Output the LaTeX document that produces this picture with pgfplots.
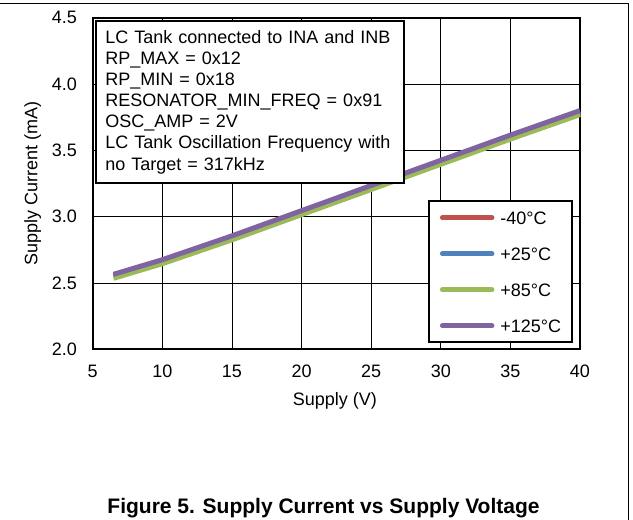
\documentclass[border=0pt]{standalone}
\usepackage{fontspec}
\setmainfont{Liberation Sans}
\usepackage{pgfplots}
\pgfplotsset{compat=1.18}
\definecolor{cred}{HTML}{C0504D}
\definecolor{cblue}{HTML}{4F81BD}
\definecolor{cgreen}{HTML}{9BBB59}
\definecolor{cpurple}{HTML}{8064A2}
\newcommand\fs{\fontsize{18pt}{21.1pt}\selectfont}
\begin{document}
\begin{tikzpicture}
\useasboundingbox (0,0) rectangle (633pt,-520pt);
\draw[line width=1.5pt] (0,-3.3pt) -- (628.5pt,-3.3pt) -- (628.5pt,-521pt);
\begin{axis}[
  at={(92.7pt,-349.2pt)}, anchor=south west,
  scale only axis, width=487.3pt, height=331.4pt,
  xmin=5, xmax=40, ymin=2, ymax=4.5,
  xtick={5,10,...,40}, ytick={2,2.5,...,4.5},
  grid=major, grid style={black, line width=0.8pt},
  major tick length=0pt,
  axis line style={line width=2pt},
  /pgf/number format/assume math mode=true,
  ticklabel style={font=\fs},
  y tick label style={/pgf/number format/.cd, fixed, fixed zerofill, precision=1, /tikz/.cd, anchor=east, inner sep=0pt, xshift=-15.5pt},
  x tick label style={anchor=north, inner sep=0pt, yshift=-16pt},
  xlabel={Supply (V)}, ylabel={Supply Current (mA)},
  label style={font=\fs},
  xlabel style={at={(axis description cs:0.497,-0.157)}, anchor=center},
  ylabel style={at={(axis description cs:-0.123,0.5)}, anchor=center, rotate=0},
  clip=false,
  legend cell align=left,
  legend image code/.code={\draw[line width=5pt, line cap=round] (0pt,0pt) -- (49.5pt,0pt);},
  legend style={at={(0.986,0.018)}, anchor=south east, draw=black, line width=2pt,
    font=\fs, inner xsep=11pt, inner ysep=10pt, row sep=23.1pt, column sep=6pt,
    nodes={inner sep=0pt, text height=12.9pt, text depth=0pt}},
  every axis plot/.append style={line width=5pt},
]
\addplot[cred] coordinates {(6.5,2.545) (10,2.655) (15,2.835) (20,3.025) (25,3.215) (30,3.405) (35,3.595) (40,3.780)};
\addlegendentry{-40°C}
\addplot[cblue] coordinates {(6.5,2.555) (10,2.665) (15,2.845) (20,3.035) (25,3.225) (30,3.415) (35,3.605) (40,3.790)};
\addlegendentry{+25°C}
\addplot[cgreen] coordinates {(6.5,2.535) (10,2.645) (15,2.825) (20,3.015) (25,3.205) (30,3.395) (35,3.585) (40,3.770)};
\addlegendentry{+85°C}
\addplot[cpurple] coordinates {(6.5,2.565) (10,2.675) (15,2.855) (20,3.045) (25,3.235) (30,3.425) (35,3.615) (40,3.800)};
\addlegendentry{+125°C}
\node[draw=black, line width=2pt, fill=white, anchor=north west, font=\fs,
  text width=290pt, align=left, inner xsep=9pt, inner ysep=9pt]
  at (rel axis cs:0.0055,0.992)
  {LC Tank connected to INA and INB\\
   RP\_MAX = 0x12\\
   RP\_MIN = 0x18\\
   RESONATOR\_MIN\_FREQ = 0x91\\
   OSC\_AMP = 2V\\
   LC Tank Oscillation Frequency with\\
   no Target = 317kHz};
\end{axis}
\node[font=\fontsize{21pt}{25pt}\selectfont\bfseries] at (323.5pt,-508pt) {Figure 5. Supply Current vs Supply Voltage};
\end{tikzpicture}
\end{document}
